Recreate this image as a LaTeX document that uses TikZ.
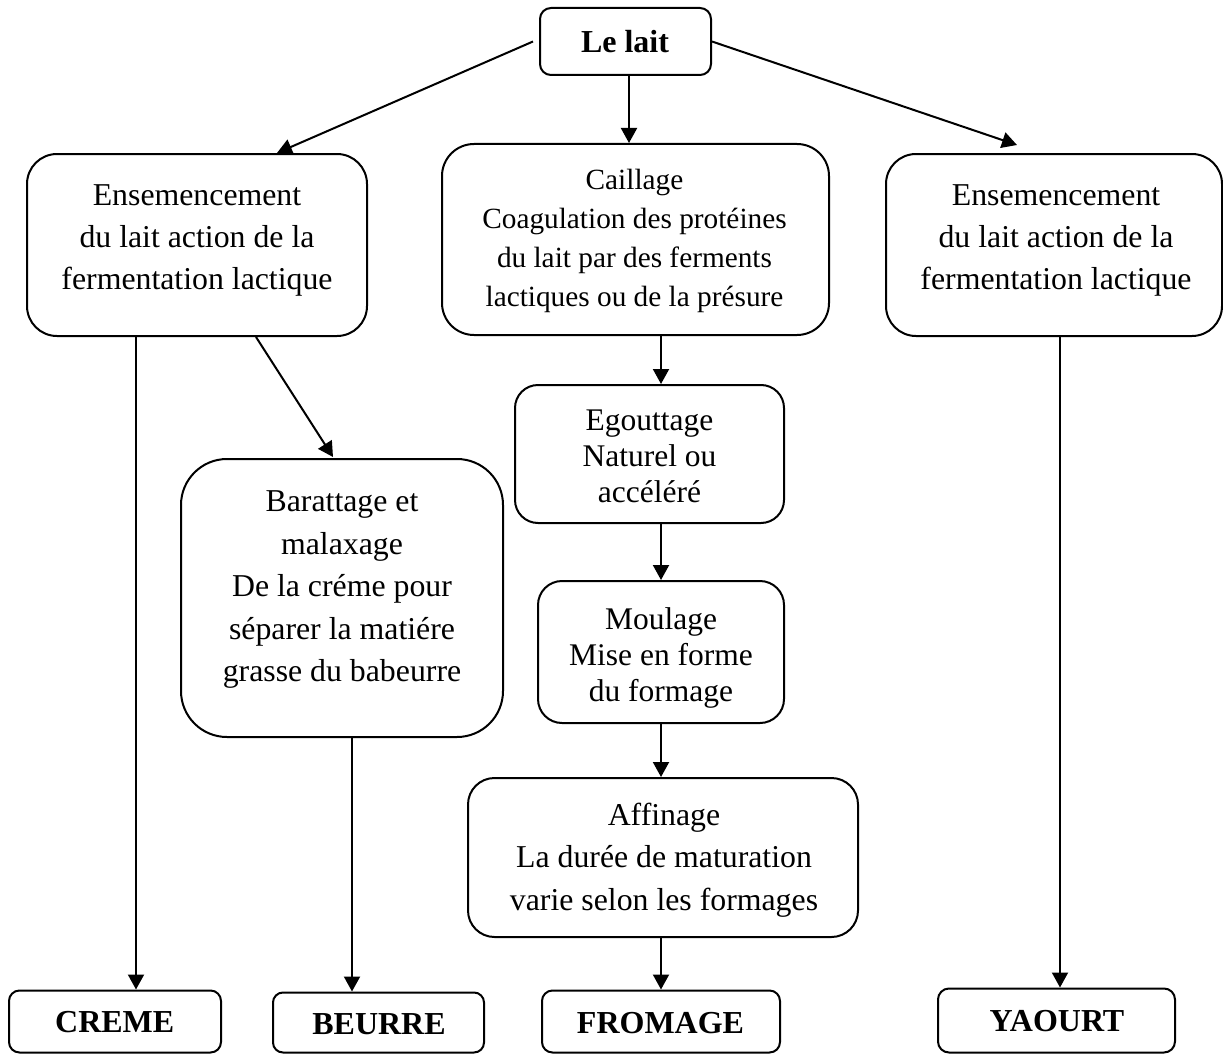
\documentclass[tikz,border=0pt]{standalone}
\usepackage{fontspec}
\setmainfont{Liberation Serif}
\usetikzlibrary{arrows.meta}
\tikzset{
  box/.style={draw, line width=2pt, rectangle, inner sep=0pt},
  txt/.style={inner sep=0pt, align=center},
  arr/.style={line width=2pt, -{Triangle[width=16pt,length=15pt]}},
  fEns/.style={font=\fontsize{31.8}{42}\selectfont},
  fCai/.style={font=\fontsize{29.3}{39.3}\selectfont},
  fEgo/.style={font=\fontsize{31.5}{36}\selectfont},
  fBar/.style={font=\fontsize{31.8}{42.5}\selectfont},
  fBold/.style={font=\fontsize{32}{38}\selectfont\bfseries},
}
\begin{document}
\begin{tikzpicture}[x=1pt,y=-1pt]
\useasboundingbox (0,0) rectangle (1223,1054);
\fill[white] (0,0) rectangle (1223,1054);
% boxes
\node[box, minimum width=171pt, minimum height=67pt, rounded corners=11pt] (lait) at (625.5,41.5) {};
\node[box, minimum width=340pt, minimum height=182pt, rounded corners=30pt] (ens1) at (197,245) {};
\node[box, minimum width=387pt, minimum height=191pt, rounded corners=32pt] (caill) at (635.5,239.5) {};
\node[box, minimum width=336pt, minimum height=182pt, rounded corners=30pt] (ens2) at (1054,245) {};
\node[box, minimum width=269pt, minimum height=138pt, rounded corners=23pt] (egout) at (649.5,454) {};
\node[box, minimum width=246pt, minimum height=142pt, rounded corners=24pt] (moul) at (661,652) {};
\node[box, minimum width=322pt, minimum height=278pt, rounded corners=46pt] (baratt) at (342,598) {};
\node[box, minimum width=390pt, minimum height=159pt, rounded corners=26.5pt] (affin) at (663,857.5) {};
\node[box, minimum width=212pt, minimum height=62pt, rounded corners=10.5pt] (creme) at (115,1021.5) {};
\node[box, minimum width=211pt, minimum height=60pt, rounded corners=10pt] (beurre) at (378.5,1022.5) {};
\node[box, minimum width=238pt, minimum height=62pt, rounded corners=10.5pt] (fromage) at (661,1021.5) {};
\node[box, minimum width=237pt, minimum height=64pt, rounded corners=11pt] (yaourt) at (1056.5,1020.5) {};
% texts
\node[txt, fBold] (tlait) at (625,41.5) {Le lait};
\node[txt, fEns] (tens1) at (197,240) {Ensemencement\\du lait action de la\\fermentation lactique};
\node[txt, fCai] (tcaill) at (634.5,241) {Caillage\\Coagulation des protéines\\du lait par des ferments\\lactiques ou de la présure};
\node[txt, fEns] (tens2) at (1056,240) {Ensemencement\\du lait action de la\\fermentation lactique};
\node[txt, fEgo] (tegout) at (649.5,456.5) {Egouttage\\Naturel ou\\accéléré};
\node[txt, fEgo] (tmoul) at (661,657.5) {Moulage\\Mise en forme\\du formage};
\node[txt, fBar] (tbaratt) at (342,590) {Barattage et\\malaxage\\De la créme pour\\séparer la matiére\\grasse du babeurre};
\node[txt, fBar] (taffin) at (664,860) {Affinage\\La durée de maturation\\varie selon les formages};
\node[txt, fBold] (tcreme) at (114.7,1022.5) {CREME};
\node[txt, fBold] (tbeurre) at (379,1024) {BEURRE};
\node[txt, fBold] (tfromage) at (660.5,1023) {FROMAGE};
\node[txt, fBold] (tyaourt) at (1057,1021) {YAOURT};
% connectors
\draw[arr] ([xshift=-6pt]lait.west) -- ([xshift=80pt]ens1.north);
\draw[arr] (lait.east) -- ([xshift=-37pt,yshift=8pt]ens2.north);
\draw[arr] ([xshift=3.5pt]lait.south) -- ([xshift=3.5pt]lait.south |- caill.north);
\draw[arr] ([xshift=25.5pt]caill.south) -- ([xshift=25.5pt]caill.south |- egout.north);
\draw[arr] (moul.north |- egout.south) -- (moul.north);
\draw[arr] (moul.south) -- (moul.south |- affin.north);
\draw[arr] (fromage.north |- affin.south) -- (fromage.north);
\draw[arr] ([xshift=21pt]creme.north |- ens1.south) -- ([xshift=21pt]creme.north);
\draw[arr] ([xshift=59pt]ens1.south) -- ([xshift=-9pt,yshift=1pt]baratt.north);
\draw[arr] ([xshift=10pt]baratt.south) -- ([xshift=10pt]baratt.south |- beurre.north);
\draw[arr] ([xshift=6pt]ens2.south) -- ([xshift=6pt]ens2.south |- yaourt.north);
\end{tikzpicture}
\end{document}
